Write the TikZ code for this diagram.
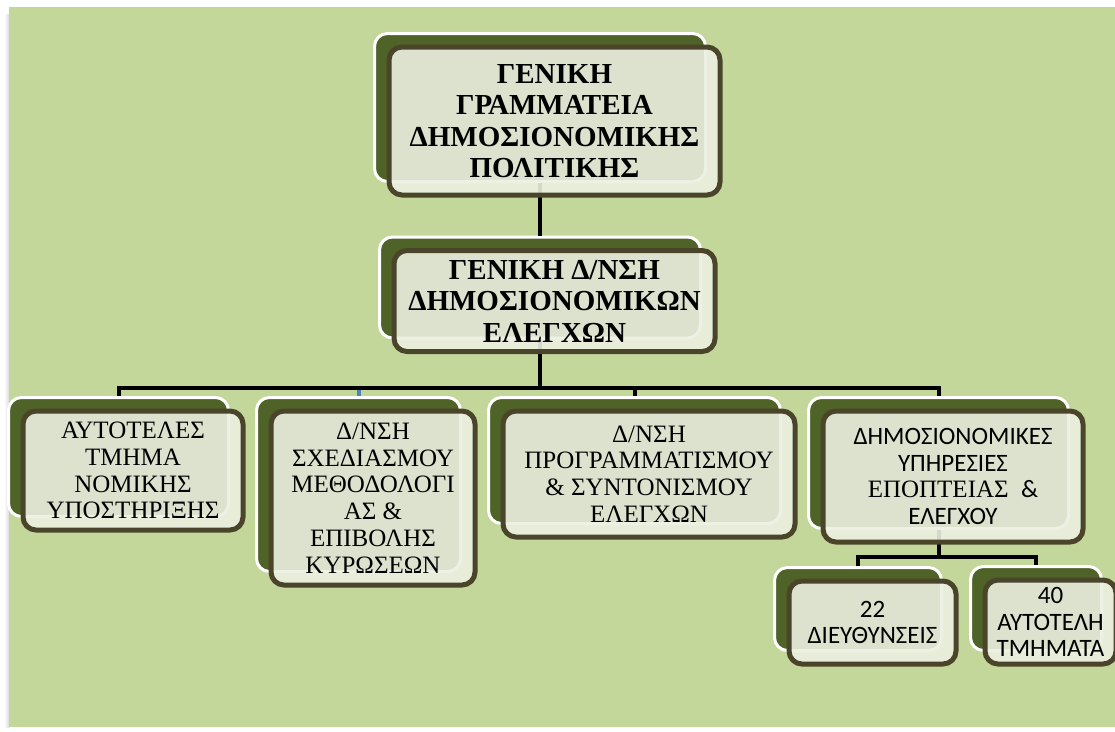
\documentclass[tikz,border=0pt]{standalone}
\usepackage{fontspec}
\setmainfont{Liberation Serif}
\newfontfamily\calibri{Carlito}
\usetikzlibrary{positioning}
\definecolor{PageGreen}{HTML}{C4D79B}
\definecolor{DarkOlive}{HTML}{4F6228}
\definecolor{PaleCard}{HTML}{ECF0E1}
\definecolor{CardEdge}{HTML}{4A452A}
\definecolor{LinkBlue}{HTML}{4F81BD}

\begin{document}
\begin{tikzpicture}[x=1pt,y=-1pt,
    backbox/.style={draw=white,line width=3pt,fill=DarkOlive,rounded corners=13pt,inner sep=0pt},
    card/.style={draw=CardEdge,line width=5pt,fill=PaleCard,fill opacity=.9,text opacity=1,
      rounded corners=13pt,inner sep=0pt,align=center},
    headcard/.style={card,font=\fontsize{29}{31.5}\selectfont\bfseries},
    unitcard/.style={card,font=\fontsize{25}{26.7}\selectfont},
    smallcard/.style={card,font=\calibri\fontsize{25}{26.5}\selectfont},
    linkline/.style={line width=4pt}]
      \path[use as bounding box,fill=white] (0,0) rectangle (1115,731);
      \shade[left color=white,right color=black!14] (4,14) rectangle (9,727);
      \fill[PageGreen] (9,7) rectangle (1115,727);
      % back plates
      \node[backbox,minimum width=331pt,minimum height=148pt] (b0) at (540,107.5) {};
      \node[backbox,minimum width=321pt,minimum height=101pt] (bA) at (540,287.5) {};
      \node[backbox,minimum width=220pt,minimum height=119pt] (b1) at (118.5,457) {};
      \node[backbox,minimum width=204pt,minimum height=174pt] (b2) at (358.5,484.5) {};
      \node[backbox,minimum width=292pt,minimum height=126pt] (b3) at (634.5,460.5) {};
      \node[backbox,minimum width=260pt,minimum height=131pt] (b4) at (938.5,463) {};
      \node[backbox,minimum width=167pt,minimum height=83pt] (b5) at (858,609) {};
      \node[backbox,minimum width=131pt,minimum height=84pt] (b6) at (1036,608.5) {};
      % connectors
      \draw[linkline] (b0.south) -- (bA.north);
      \draw[linkline] (bA.south) -- ++(0,48) coordinate (hub);
      \draw[linkline] (b1.north) |- (hub) -| (b4.north);
      \draw[linkline] (hub -| b3.north) -- (b3.north);
      \draw[linkline,LinkBlue,shorten <=2pt] (hub -| b2.north) -- (b2.north);
      \draw[linkline] (b4.south) -- ++(0,26.5) coordinate (hubb);
      \draw[linkline] (b5.north) |- (hubb) -| (b6.north);
      % front cards
      \node[headcard,minimum width=331pt,minimum height=148pt] (f0) at ([shift={(14.5,13.5)}]b0.center)
        {ΓΕΝΙΚΗ\\ΓΡΑΜΜΑΤΕΙΑ\\ΔΗΜΟΣΙΟΝΟΜΙΚΗΣ\\ΠΟΛΙΤΙΚΗΣ};
      \node[headcard,minimum width=321pt,minimum height=101pt] (fA) at ([shift={(14.5,13.5)}]bA.center)
        {ΓΕΝΙΚΗ Δ/ΝΣΗ\\ΔΗΜΟΣΙΟΝΟΜΙΚΩΝ\\ΕΛΕΓΧΩΝ};
      \node[unitcard,minimum width=220pt,minimum height=119pt] (f1) at ([shift={(14.5,13.5)}]b1.center)
        {ΑΥΤΟΤΕΛΕΣ\\ΤΜΗΜΑ\\ΝΟΜΙΚΗΣ\\ΥΠΟΣΤΗΡΙΞΗΣ};
      \node[unitcard,minimum width=204pt,minimum height=174pt] (f2) at ([shift={(14.5,13.5)}]b2.center)
        {Δ/ΝΣΗ\\ΣΧΕΔΙΑΣΜΟΥ\\ΜΕΘΟΔΟΛΟΓΙ\\ΑΣ \&\\ΕΠΙΒΟΛΗΣ\\ΚΥΡΩΣΕΩΝ};
      \node[unitcard,minimum width=292pt,minimum height=126pt] (f3) at ([shift={(14.5,13.5)}]b3.center)
        {Δ/ΝΣΗ\\ΠΡΟΓΡΑΜΜΑΤΙΣΜΟΥ\\\& ΣΥΝΤΟΝΙΣΜΟΥ\\ΕΛΕΓΧΩΝ};
      \node[unitcard,minimum width=260pt,minimum height=131pt] (f4) at ([shift={(14.5,13.5)}]b4.center)
        {{\calibri ΔΗΜΟΣΙΟΝΟΜΙΚΕΣ}\\{\calibri ΥΠΗΡΕΣΙΕΣ}\\ΕΠΟΠΤΕΙΑΣ\ \ {\calibri\&}\\{\calibri ΕΛΕΓΧΟΥ}};
      \node[smallcard,minimum width=167pt,minimum height=83pt] (f5) at ([shift={(14.5,13.5)}]b5.center)
        {22\\ΔΙΕΥΘΥΝΣΕΙΣ};
      \node[smallcard,minimum width=131pt,minimum height=84pt] (f6) at ([shift={(14.5,13.5)}]b6.center)
        {40\\ΑΥΤΟΤΕΛΗ\\ΤΜΗΜΑΤΑ};
    \end{tikzpicture}
\end{document}
